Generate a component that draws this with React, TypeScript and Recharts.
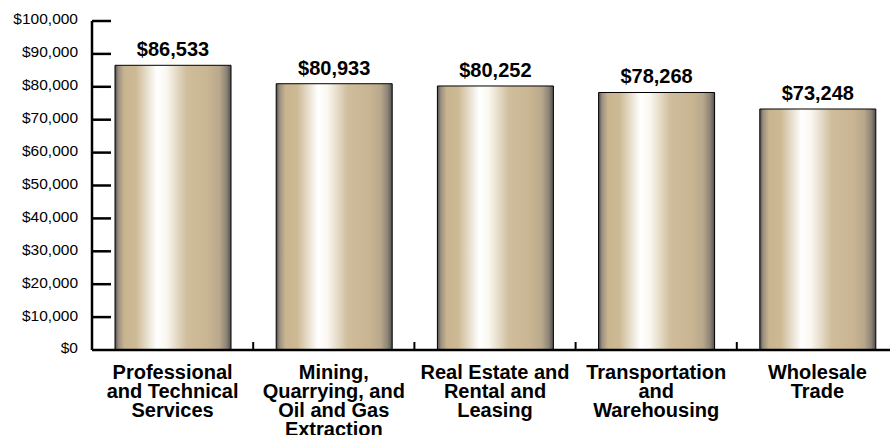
import React from 'react';
import { BarChart, Bar, XAxis, YAxis, LabelList } from 'recharts';

const categories = [
  'Professional\nand Technical\nServices',
  'Mining,\nQuarrying, and\nOil and Gas\nExtraction',
  'Real Estate and\nRental and\nLeasing',
  'Transportation\nand\nWarehousing',
  'Wholesale\nTrade',
];
const salaries = [86533, 80933, 80252, 78268, 73248];
const yTicks = [0, 10000, 20000, 30000, 40000, 50000, 60000, 70000, 80000, 90000, 100000];

const data = categories.map((c, i) => ({ name: c, value: salaries[i] }));

const FONT = '"Liberation Sans", Arial, Helvetica, sans-serif';
const AXIS_X = 92;
const AXIS_Y = 350;
const PLOT_RIGHT = 898;
const BAND = (PLOT_RIGHT - AXIS_X) / categories.length;

const fmt = (v: number) => '$' + v.toLocaleString('en-US');

const YTick = (props: any) => {
  const { y, payload } = props;
  return (
    <g>
      {payload.value !== 0 && (
        <line x1={AXIS_X} x2={AXIS_X + 19} y1={y} y2={y} stroke="#000" strokeWidth={2.5} />
      )}
      <text x={AXIS_X - 14} y={y - 2} dy="0.35em" textAnchor="end" fontFamily={FONT} fontSize={15.5} fill="#000">
        {fmt(payload.value)}
      </text>
    </g>
  );
};

const XTick = (props: any) => {
  const { x, payload, index } = props;
  const lines = String(payload.value).split('\n');
  return (
    <g>
      {index < categories.length - 1 && (
        <line x1={x + BAND / 2} x2={x + BAND / 2} y1={AXIS_Y - 8} y2={AXIS_Y} stroke="#000" strokeWidth={2} />
      )}
      <text textAnchor="middle" fontFamily={FONT} fontSize={20} fontWeight="bold" fill="#000">
        {lines.map((l, i) => (
          <tspan key={i} x={x} y={AXIS_Y + 29 + i * 19}>
            {l}
          </tspan>
        ))}
      </text>
    </g>
  );
};

const ValueLabel = (props: any) => {
  const { x, y, width, value } = props;
  return (
    <text x={x + width / 2} y={y - 9} textAnchor="middle" fontFamily={FONT} fontSize={20} fontWeight="bold" fill="#000">
      {fmt(value)}
    </text>
  );
};

export default function App() {
  return (
    <div style={{ position: 'absolute', left: 0, top: 0, width: 890, height: 435, overflow: 'hidden', background: '#fff' }}>
      <BarChart width={900} height={435} data={data} margin={{ top: 21, right: 2, bottom: 0, left: 0 }} barSize={116}>
        <defs>
          <linearGradient id="barGrad" x1="0" y1="0" x2="1" y2="0">
            <stop offset="0%" stopColor="#505050" />
            <stop offset="3%" stopColor="#9d9080" />
            <stop offset="8%" stopColor="#c8b48f" />
            <stop offset="18%" stopColor="#cdb994" />
            <stop offset="36%" stopColor="#ffffff" />
            <stop offset="44%" stopColor="#fbf8f2" />
            <stop offset="62%" stopColor="#cfbd9b" />
            <stop offset="80%" stopColor="#c9b592" />
            <stop offset="90%" stopColor="#b8a88c" />
            <stop offset="96%" stopColor="#8e8577" />
            <stop offset="100%" stopColor="#505050" />
          </linearGradient>
        </defs>
        <XAxis
          dataKey="name"
          height={85}
          axisLine={{ stroke: '#000', strokeWidth: 2.5 }}
          tickLine={false}
          tick={<XTick />}
          interval={0}
        />
        <YAxis
          width={92}
          domain={[0, 100000]}
          ticks={yTicks}
          axisLine={{ stroke: '#000', strokeWidth: 2.5 }}
          tickLine={false}
          tick={<YTick />}
          interval={0}
        />
        <Bar dataKey="value" fill="url(#barGrad)" stroke="#000" strokeWidth={1} isAnimationActive={false}>
          <LabelList dataKey="value" content={<ValueLabel />} />
        </Bar>
      </BarChart>
    </div>
  );
}
